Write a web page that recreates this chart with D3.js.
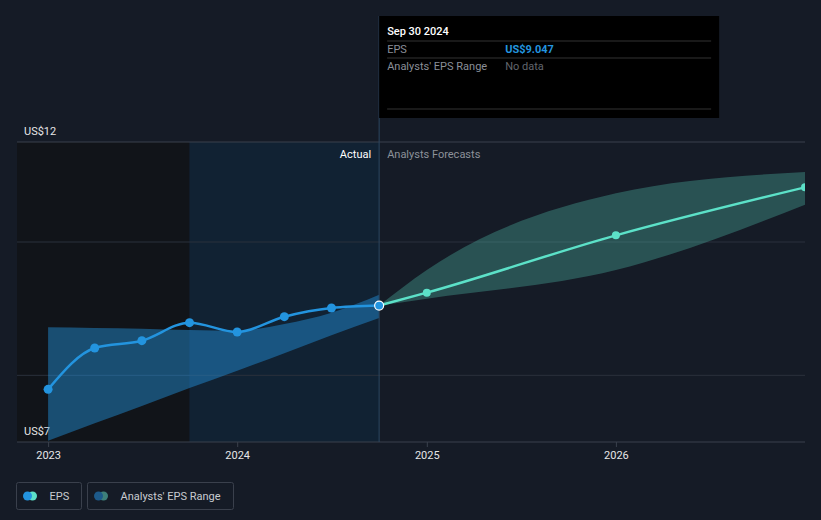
<!DOCTYPE html>
<html>
<head>
<meta charset="utf-8">
<script src="https://cdn.jsdelivr.net/npm/d3@7"></script>
<style>
  body { margin: 0; background: #151b26; }
  svg { display: block; font-family: Roboto, "Noto Sans", sans-serif; }
</style>
</head>
<body>
<svg id="chart" width="821" height="520"></svg>
<script>
// EPS history (quarterly, trailing)
const epsDates = ["2022-12-31", "2023-03-31", "2023-06-30", "2023-09-30", "2023-12-31", "2024-03-31", "2024-06-30", "2024-09-30"];
const epsValues = [7.79, 8.41, 8.52, 8.79, 8.65, 8.88, 9.01, 9.047];

// past analyst range (blue band)
const pastLow = [7.02, 7.28, 7.54, 7.81, 8.07, 8.33, 8.60, 8.86];
const pastHigh = [8.72, 8.71, 8.70, 8.68, 8.67, 8.77, 8.94, 9.21];

// forecasts
const fcDates = ["2024-09-30", "2024-12-31", "2025-12-31", "2026-12-31"];
const fcValues = [9.047, 9.24, 10.10, 10.82];
const fcLow = [9.047, 9.15, 9.58, 10.56];
const fcHigh = [9.047, 9.58, 10.73, 11.05];

const xTicks = ["2023-01-01", "2024-01-01", "2025-01-01", "2026-01-01"];
const gridValues = [8, 10, 11.5];
const yLabelValues = [11.5, 7];

const parse = d3.timeParse("%Y-%m-%d");
const svg = d3.select("#chart");

const x = d3.scaleTime()
  .domain([parse("2022-11-01"), parse("2026-12-31")])
  .range([17, 805]);
const y = d3.scaleLinear().domain([7, 11.5]).range([442, 142]);

const eps = epsDates.map((d, i) => ({ date: parse(d), v: epsValues[i], lo: pastLow[i], hi: pastHigh[i] }));
const fc = fcDates.map((d, i) => ({ date: parse(d), v: fcValues[i], lo: fcLow[i], hi: fcHigh[i] }));
const now = parse("2024-09-30");
const yearAgo = parse("2023-09-30");

svg.append("defs").append("clipPath").attr("id", "plot")
  .append("rect").attr("x", 17).attr("y", 0).attr("width", 788).attr("height", 442);

// background regions
svg.append("rect")
  .attr("x", x.range()[0]).attr("y", y(11.5))
  .attr("width", x(yearAgo) - x.range()[0]).attr("height", y(7) - y(11.5))
  .attr("fill", "#111419");
svg.append("rect")
  .attr("x", x(yearAgo)).attr("y", y(11.5))
  .attr("width", x(now) - x(yearAgo)).attr("height", y(7) - y(11.5))
  .attr("fill", "#112233");

// grid
svg.append("g").selectAll("line")
  .data(gridValues).enter()
  .append("line")
  .attr("x1", 17).attr("x2", 805)
  .attr("y1", d => y(d)).attr("y2", d => y(d))
  .attr("stroke", d => d === 11.5 ? "#3a404c" : "#2b313c")
  .attr("stroke-width", 1);

// x axis
const xAxis = svg.append("g").attr("transform", "translate(0," + y(7) + ")");
xAxis.append("line").attr("x1", 17).attr("x2", 805).attr("stroke", "#3a404c");
xAxis.selectAll("line.tick")
  .data(xTicks).enter()
  .append("line").attr("class", "tick")
  .attr("x1", d => x(parse(d))).attr("x2", d => x(parse(d)))
  .attr("y1", 0).attr("y2", 5)
  .attr("stroke", "#3a404c");
xAxis.selectAll("text")
  .data(xTicks).enter()
  .append("text")
  .attr("x", d => x(parse(d)))
  .attr("y", 17)
  .attr("text-anchor", "middle")
  .attr("fill", "#e6e6e6")
  .attr("font-size", 11)
  .text(d => d3.timeFormat("%Y")(parse(d)));

// y labels
svg.selectAll("text.ylab")
  .data(yLabelValues).enter()
  .append("text").attr("class", "ylab")
  .attr("x", 24)
  .attr("y", d => y(d) - 7)
  .attr("fill", "#e6e6e6")
  .attr("font-size", 11)
  .text(d => "US$" + d3.format(".0f")(d));

const plot = svg.append("g").attr("clip-path", "url(#plot)");

// bands
const band = d3.area()
  .x(d => x(d.date)).y0(d => y(d.lo)).y1(d => y(d.hi))
  .curve(d3.curveMonotoneX);
plot.append("path").datum(eps)
  .attr("d", band)
  .attr("fill", "#2394df").attr("fill-opacity", 0.45);
plot.append("path").datum(fc)
  .attr("d", band)
  .attr("fill", "#5ce1c8").attr("fill-opacity", 0.28);

// divider
svg.append("line")
  .attr("x1", x(now)).attr("x2", x(now))
  .attr("y1", 16).attr("y2", y(7))
  .attr("stroke", "#2c4660").attr("stroke-width", 1);

svg.append("text")
  .attr("x", x(now) - 8).attr("y", 158)
  .attr("text-anchor", "end")
  .attr("fill", "#ffffff").attr("font-size", 11)
  .text("Actual");
svg.append("text")
  .attr("x", x(now) + 8).attr("y", 158)
  .attr("fill", "#8c9199").attr("font-size", 11)
  .text("Analysts Forecasts");

// lines
const line = d3.line()
  .x(d => x(d.date)).y(d => y(d.v))
  .curve(d3.curveMonotoneX);
plot.append("path").datum(fc)
  .attr("d", line)
  .attr("fill", "none").attr("stroke", "#5ce1c8").attr("stroke-width", 2.5);
plot.append("path").datum(eps)
  .attr("d", line)
  .attr("fill", "none").attr("stroke", "#2394df").attr("stroke-width", 2.5);

plot.selectAll("circle.fc")
  .data(fc.slice(1)).enter()
  .append("circle").attr("class", "fc")
  .attr("cx", d => x(d.date)).attr("cy", d => y(d.v))
  .attr("r", 4).attr("fill", "#5ce1c8");
plot.selectAll("circle.eps")
  .data(eps.slice(0, -1)).enter()
  .append("circle").attr("class", "eps")
  .attr("cx", d => x(d.date)).attr("cy", d => y(d.v))
  .attr("r", 4.5).attr("fill", "#2394df");
const last = eps[eps.length - 1];
svg.append("circle")
  .attr("cx", x(last.date)).attr("cy", y(last.v))
  .attr("r", 4.5).attr("fill", "#2394df")
  .attr("stroke", "#ffffff").attr("stroke-width", 1.2);

// tooltip
const tip = svg.append("g").attr("transform", "translate(" + x(now) + ",16)");
tip.append("rect").attr("width", 340).attr("height", 102).attr("fill", "#000000");
tip.selectAll("line")
  .data([25, 42, 93]).enter()
  .append("line")
  .attr("x1", 8).attr("x2", 332)
  .attr("y1", d => d).attr("y2", d => d)
  .attr("stroke", "#333333");
tip.append("text").attr("x", 8).attr("y", 19)
  .attr("fill", "#ffffff").attr("font-size", 11).attr("font-weight", 500)
  .text("Sep 30 2024");
tip.append("text").attr("x", 8).attr("y", 37)
  .attr("fill", "#8a8f98").attr("font-size", 11).text("EPS");
tip.append("text").attr("x", 126).attr("y", 37)
  .attr("fill", "#2394df").attr("font-size", 11).attr("font-weight", "bold")
  .text("US$" + d3.format(".3f")(last.v));
tip.append("text").attr("x", 8).attr("y", 54)
  .attr("fill", "#8a8f98").attr("font-size", 11).text("Analysts' EPS Range");
tip.append("text").attr("x", 126).attr("y", 54)
  .attr("fill", "#62666d").attr("font-size", 11).text("No data");

// legend
const legendItems = [
  { label: "EPS", c1: "#2394df", c2: "#5ce1c8", w: 65 },
  { label: "Analysts' EPS Range", c1: "#1d5a8a", c2: "#3e807a", w: 146 }
];
let lx = 16.5;
legendItems.forEach(item => {
  const g = svg.append("g").attr("transform", "translate(" + lx + ",482.5)");
  g.append("rect").attr("width", item.w).attr("height", 27).attr("rx", 2)
    .attr("fill", "none").attr("stroke", "#3a404c");
  g.append("circle").attr("cx", 16).attr("cy", 13.5).attr("r", 4.5).attr("fill", item.c2);
  g.append("circle").attr("cx", 11).attr("cy", 13.5).attr("r", 4.5).attr("fill", item.c1);
  g.append("text").attr("x", 33).attr("y", 17.5)
    .attr("fill", "#c8cbd0").attr("font-size", 11).text(item.label);
  lx += item.w + 6;
});
</script>
</body>
</html>
